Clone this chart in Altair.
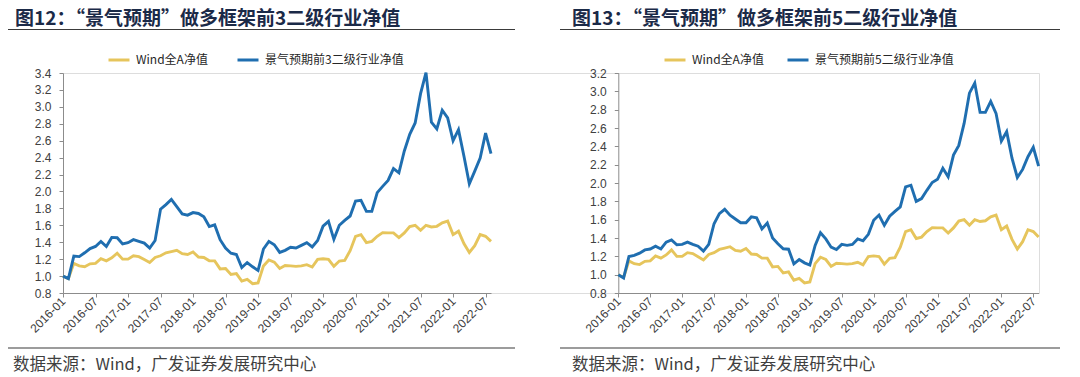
import altair as alt
import pandas as pd

# ---- categories -------------------------------------------------------------
months = [f"{2016 + i // 12}-{i % 12 + 1:02d}" for i in range(80)]  # 2016-01 .. 2022-08

# ---- series -----------------------------------------------------------------
wind_a = [1.00, 0.97, 1.15, 1.12, 1.11, 1.145, 1.15, 1.205, 1.18, 1.215,
          1.27, 1.20, 1.20, 1.24, 1.23, 1.195, 1.16, 1.22, 1.24, 1.275,
          1.29, 1.305, 1.265, 1.255, 1.285, 1.225, 1.22, 1.18, 1.18, 1.085,
          1.09, 1.02, 1.03, 0.94, 0.96, 0.91, 0.92, 1.12, 1.19, 1.165,
          1.09, 1.125, 1.12, 1.115, 1.12, 1.135, 1.107, 1.198, 1.205, 1.198,
          1.115, 1.178, 1.186, 1.30, 1.47, 1.49, 1.395, 1.41, 1.47, 1.513,
          1.51, 1.51, 1.455, 1.51, 1.585, 1.60, 1.54, 1.60, 1.58, 1.588,
          1.63, 1.65, 1.49, 1.53, 1.385, 1.28, 1.36, 1.49, 1.47, 1.41]

top3 = [1.00, 0.97, 1.236, 1.23, 1.275, 1.325, 1.35, 1.41, 1.35, 1.457,
        1.453, 1.38, 1.395, 1.43, 1.41, 1.39, 1.33, 1.42, 1.79, 1.845,
        1.905, 1.82, 1.735, 1.72, 1.75, 1.74, 1.70, 1.585, 1.605, 1.43,
        1.33, 1.27, 1.255, 1.10, 1.16, 1.11, 1.066, 1.32, 1.41, 1.37,
        1.28, 1.304, 1.34, 1.332, 1.363, 1.395, 1.344, 1.42, 1.59, 1.647,
        1.434, 1.60, 1.659, 1.71, 1.887, 1.895, 1.765, 1.765, 1.986, 2.06,
        2.13, 2.27, 2.22, 2.478, 2.676, 2.81, 3.156, 3.404, 2.82, 2.74,
        2.96, 2.87, 2.60, 2.73, 2.42, 2.09, 2.24, 2.396, 2.69, 2.447]

top5 = [1.00, 0.964, 1.198, 1.21, 1.235, 1.27, 1.28, 1.31, 1.28, 1.355,
        1.38, 1.326, 1.33, 1.355, 1.33, 1.31, 1.257, 1.33, 1.556, 1.666,
        1.713, 1.648, 1.607, 1.567, 1.567, 1.63, 1.62, 1.50, 1.563, 1.40,
        1.337, 1.282, 1.278, 1.118, 1.165, 1.129, 1.105, 1.319, 1.457, 1.39,
        1.30, 1.275, 1.33, 1.32, 1.33, 1.39, 1.37, 1.44, 1.593, 1.65,
        1.538, 1.637, 1.69, 1.74, 1.958, 1.976, 1.80, 1.83, 1.92, 2.005,
        2.04, 2.16, 2.068, 2.305, 2.41, 2.65, 2.98, 3.09, 2.77, 2.77,
        2.89, 2.76, 2.458, 2.56, 2.27, 2.06, 2.148, 2.287, 2.39, 2.185]

name_a = "Wind全A净值"
name_3 = "景气预期前3二级行业净值"
name_5 = "景气预期前5二级行业净值"

x_ticks = list(range(0, 79, 6))
y_ticks_left = [0.8, 1.0, 1.2, 1.4, 1.6, 1.8, 2.0, 2.2, 2.4, 2.6, 2.8, 3.0, 3.2, 3.4]
y_ticks_right = [0.8, 1.0, 1.2, 1.4, 1.6, 1.8, 2.0, 2.2, 2.4, 2.6, 2.8, 3.0, 3.2]

title_left = "图12：“景气预期”做多框架前3二级行业净值"
title_right = "图13：“景气预期”做多框架前5二级行业净值"
source_text = "数据来源：Wind，广发证券发展研究中心"

GOLD = "#E6C55C"
BLUE = "#1F6EB0"
CJK = "Noto Sans CJK SC"
LAT = "Liberation Sans"
AXIS_C = "#8C8C8C"
TEXT_C = "#404040"


def long_df(series_a, series_b, name_b):
    rows = []
    for i, v in enumerate(series_a):
        rows.append({"idx": i, "month": months[i], "s": name_a, "v": v})
    for i, v in enumerate(series_b):
        rows.append({"idx": i, "month": months[i], "s": name_b, "v": v})
    return pd.DataFrame(rows)


label_expr = ("toString(2016 + floor(datum.value / 12)) + '-' + "
              "((datum.value % 12) + 1 < 10 ? '0' : '') + toString((datum.value % 12) + 1)")


def x_axis():
    return alt.Axis(values=x_ticks, labelExpr=label_expr, labelAngle=315,
                    labelAlign="right", labelBaseline="middle", labelOverlap=False,
                    labelFlush=False, labelPadding=2, tickSize=4, grid=False,
                    title=None, orient="bottom", domainColor=AXIS_C, tickColor=AXIS_C,
                    labelFont=LAT, labelFontSize=12, labelColor=TEXT_C)


def y_axis(vals, offset):
    return alt.Axis(values=vals, format=".1f", tickSize=4, labelPadding=8, grid=False,
                    title=None, orient="left", offset=offset, labelFlush=False,
                    labelOverlap=False, domainColor=AXIS_C, tickColor=AXIS_C,
                    labelFont=LAT, labelFontSize=12, labelColor=TEXT_C)


def legend(lx, pad):
    return alt.Legend(orient="none", legendX=lx, legendY=-25, direction="horizontal",
                      title=None, symbolType="stroke", symbolStrokeWidth=3,
                      symbolSize=441, labelFont=CJK, labelFontSize=12,
                      labelColor="#262626", columnPadding=pad, labelOffset=5,
                      padding=0, labelLimit=400)


left_df = long_df(wind_a, top3, name_3)
right_df = long_df(wind_a, top5, name_5)

left = alt.Chart(left_df).mark_line(strokeWidth=2.9).encode(
    x=alt.X("idx:Q", scale=alt.Scale(domain=[0, 79], range=[0, 428], nice=False, zero=False),
            axis=x_axis()),
    y=alt.Y("v:Q", scale=alt.Scale(domain=[0.8, 3.4], nice=False, zero=False),
            axis=y_axis(y_ticks_left, 0)),
    color=alt.Color("s:N", scale=alt.Scale(domain=[name_a, name_3], range=[GOLD, BLUE]),
                    legend=legend(44, 23), sort=[name_a, name_3]),
    order=alt.Order("idx:Q"),
)

right = alt.Chart(right_df).mark_line(strokeWidth=2.9).encode(
    x=alt.X("idx:Q", scale=alt.Scale(domain=[0, 79], range=[555.3, 975.6], nice=False, zero=False),
            axis=x_axis()),
    y=alt.Y("v:Q", scale=alt.Scale(domain=[0.8, 3.2], nice=False, zero=False),
            axis=y_axis(y_ticks_right, -555.3)),
    color=alt.Color("s:N", scale=alt.Scale(domain=[name_a, name_5], range=[GOLD, BLUE]),
                    legend=legend(600, 17), sort=[name_a, name_5]),
    order=alt.Order("idx:Q"),
)

one = pd.DataFrame({"k": [0]})


def text(t, x, y, size, color, weight="normal"):
    return alt.Chart(pd.DataFrame({"t": [t]})).mark_text(
        align="left", baseline="middle", font=CJK, fontSize=size, color=color,
        fontWeight=weight
    ).encode(x=alt.value(x), y=alt.value(y), text="t:N")


def hrule(x1, x2, y, w=1.2):
    return alt.Chart(one).mark_rule(color="#3A3A3A", strokeWidth=w).encode(
        x=alt.value(x1), x2=alt.value(x2), y=alt.value(y))


deco = [
    text(title_left, -48, -54, 19, "#1B2A48", "bold"),
    text(title_right, 509, -54, 19, "#1B2A48", "bold"),
    hrule(-55, 452, -43.5),
    hrule(497, 997, -43.5),
    hrule(-55, 452, 275),
    hrule(497, 997, 275),
    text(source_text, -50, 291.5, 16.5, "#3F3F3F"),
    text(source_text, 509, 291.5, 16.5, "#3F3F3F"),
]

chart = alt.layer(left, right, *deco).resolve_scale(
    x="independent", y="independent", color="independent"
).properties(
    width=976, height=220,
    autosize=alt.AutoSizeParams(type="none"),
    padding={"left": 55, "top": 65, "right": 33, "bottom": 80},
).configure_view(stroke=None).configure(background="white")

chart.save("out.html", embed_options={"renderer": "svg", "actions": False})
